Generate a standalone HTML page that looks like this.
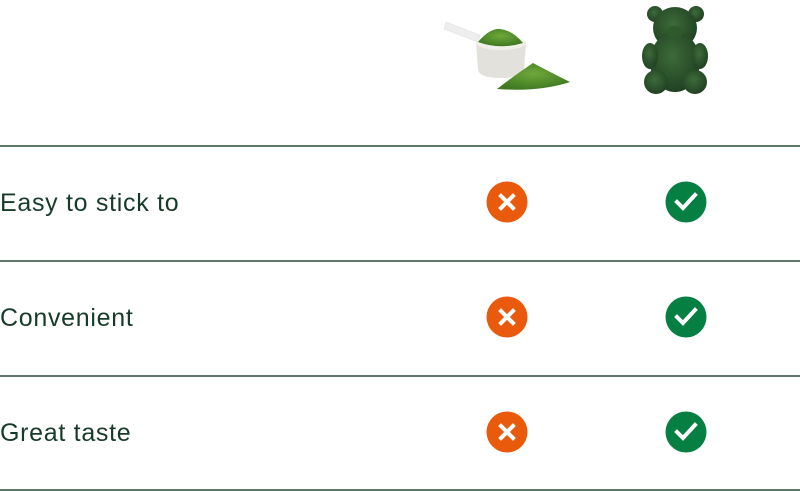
<!DOCTYPE html>
<html><head><meta charset="utf-8"><style>
html,body{margin:0;padding:0;background:#fff;}
svg{display:block}
text{font-family:"Liberation Sans",sans-serif;font-size:25px;letter-spacing:0.7px;fill:#173b2a;}
</style></head><body>
<svg width="800" height="491" viewBox="0 0 800 491" xmlns="http://www.w3.org/2000/svg">
<defs>
<radialGradient id="pw" cx="0.5" cy="0.4" r="0.6"><stop offset="0" stop-color="#6fa83a"/><stop offset="1" stop-color="#3f7a22"/></radialGradient>
<radialGradient id="bg" cx="0.45" cy="0.4" r="0.7"><stop offset="0" stop-color="#3d6b3a"/><stop offset="1" stop-color="#1c3b1e"/></radialGradient>
</defs>
<!-- scoop -->
<path d="M446 22 L480 35 L478 42 L444 29 Z" fill="#eeeeee" stroke="#ddd" stroke-width="0.5"/>
<path d="M476 42 Q476 38 500 38 Q526 38 526 43 L524 70 Q522 78 500 78 Q480 78 478 70 Z" fill="#e3e1dc"/>
<ellipse cx="501" cy="43" rx="25" ry="7" fill="#f0efe9"/>
<path d="M478 42 Q490 28 500 29 Q512 30 523 43 Q500 50 478 42 Z" fill="url(#pw)"/>
<!-- powder pile -->
<path d="M497 89 Q515 75 533 63 Q550 72 570 82 Q540 92 497 89 Z" fill="url(#pw)"/>
<!-- bear -->
<g fill="url(#bg)">
<circle cx="655" cy="14" r="8"/><circle cx="696" cy="14" r="8"/>
<ellipse cx="675" cy="28" rx="22" ry="21"/>
<ellipse cx="675" cy="62" rx="25" ry="30"/>
<ellipse cx="656" cy="82" rx="12" ry="12"/><ellipse cx="695" cy="82" rx="12" ry="12"/>
<ellipse cx="650" cy="56" rx="8" ry="13"/><ellipse cx="700" cy="56" rx="8" ry="13"/>
</g>
<ellipse cx="675" cy="32" rx="8" ry="6" fill="#2e5a2c"/>
<!-- lines -->
<g stroke="#2b4a3a" stroke-width="1.5">
<line x1="0" y1="146" x2="800" y2="146"/>
<line x1="0" y1="261" x2="800" y2="261"/>
<line x1="0" y1="376" x2="800" y2="376"/>
<line x1="0" y1="490" x2="800" y2="490"/>
</g>
<text x="0" y="211">Easy to stick to</text>
<text x="0" y="326">Convenient</text>
<text x="0" y="441">Great taste</text>
<g id="r">
<circle cx="507" cy="202" r="20.5" fill="#ea5a0c"/>
<path d="M501 196 L513 208 M513 196 L501 208" stroke="#fff" stroke-width="4" stroke-linecap="square"/>
<circle cx="686" cy="202" r="20.5" fill="#067f43"/>
<path d="M677 202 L683 208 L695 195" stroke="#fff" stroke-width="4" fill="none" stroke-linecap="square"/>
</g>
<use href="#r" y="115"/>
<use href="#r" y="230"/>
</svg>
</body></html>
